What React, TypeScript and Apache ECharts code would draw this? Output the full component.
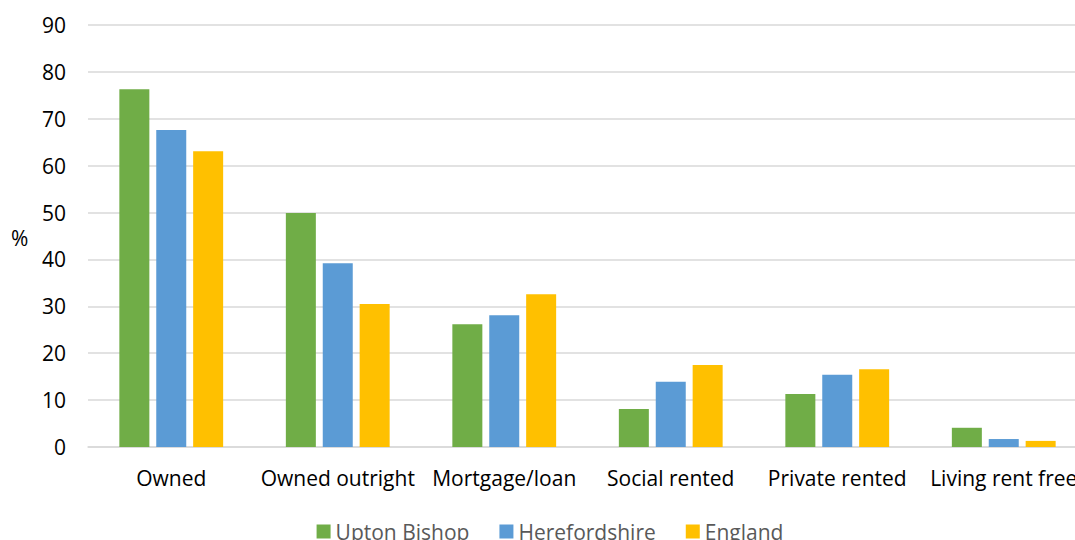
import React, { useEffect, useRef } from "react";
import * as echarts from "echarts";

const categories = ["Owned", "Owned outright", "Mortgage/loan", "Social rented", "Private rented", "Living rent free"];
const uptonBishop = [76.3, 49.9, 26.2, 8.1, 11.3, 4.1];
const herefordshire = [67.6, 39.2, 28.1, 13.9, 15.4, 1.7];
const england = [63.1, 30.5, 32.6, 17.5, 16.6, 1.3];
const seriesNames = ["Upton Bishop", "Herefordshire", "England"];
const colors = ["#70AD47", "#5B9BD5", "#FFC000"];

const FONT = "'Open Sans', 'Noto Sans', sans-serif";

export default function App() {
  const ref = useRef<HTMLDivElement>(null);
  useEffect(() => {
    if (!ref.current) return;
    const chart = echarts.init(ref.current, undefined, { renderer: "svg" });
    const data = [uptonBishop, herefordshire, england];
    chart.setOption({
      animation: false,
      textStyle: { fontFamily: FONT },
      grid: { left: 88, right: 13, top: 25, bottom: 93, containLabel: false },
      legend: {
        top: 521,
        left: "center",
        padding: 0,
        itemWidth: 14,
        itemHeight: 14,
        itemGap: 30,
        icon: "rect",
        textStyle: { fontFamily: FONT, fontSize: 21, color: "#595959", lineHeight: 21 },
        data: seriesNames,
      },
      graphic: [
        {
          type: "text",
          left: 11,
          top: 227,
          style: { text: "%", font: `21px ${FONT}`, fill: "#000" },
        },
      ],
      xAxis: {
        type: "category",
        data: categories,
        axisLine: { lineStyle: { color: "#d9d9d9", width: 1.5 } },
        axisTick: { show: false },
        axisLabel: { color: "#000", fontSize: 21, margin: 20, fontFamily: FONT, interval: 0 },
      },
      yAxis: {
        type: "value",
        min: 0,
        max: 90,
        interval: 10,
        axisLine: { show: false },
        axisTick: { show: false },
        axisLabel: { color: "#000", fontSize: 21, margin: 22, fontFamily: FONT },
        splitLine: { lineStyle: { color: "#d9d9d9", width: 1.5 } },
      },
      series: seriesNames.map((name, i) => ({
        name,
        type: "bar",
        data: data[i],
        barWidth: 30,
        barGap: "23%",
        itemStyle: { color: colors[i] },
      })),
    });
    return () => chart.dispose();
  }, []);
  return (
    <div style={{ position: "fixed", left: 0, top: 0, width: 1075, height: 540, overflow: "hidden", background: "#fff" }}>
      <div ref={ref} style={{ width: 1100, height: 540 }} />
    </div>
  );
}
